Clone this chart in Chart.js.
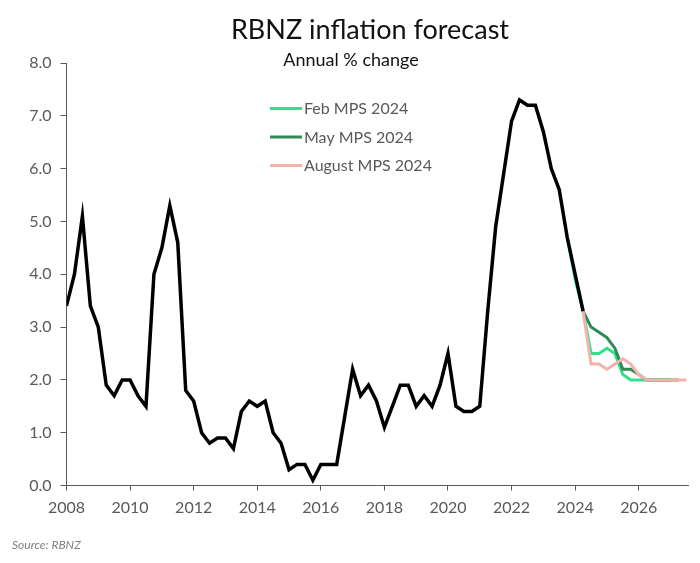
<!DOCTYPE html>
<html>
<head>
<meta charset="utf-8">
<title>RBNZ inflation forecast</title>
<script src="https://cdn.jsdelivr.net/npm/chart.js@4.4.1/dist/chart.umd.min.js"></script>
<style>
  html, body { margin: 0; padding: 0; background: #fff; }
</style>
</head>
<body>
<canvas id="chart" width="700" height="563"></canvas>
<script>
const FONT = "'Century Gothic', Lato, sans-serif"
const AXIS = "#595959"

// quarterly annual CPI %, first value is Q1 of histStart
const histStart = 2008
const histValues = [
  3.4, 4.0, 5.1, 3.4,
  3.0, 1.9, 1.7, 2.0,
  2.0, 1.7, 1.5, 4.0,
  4.5, 5.3, 4.6, 1.8,
  1.6, 1.0, 0.8, 0.9,
  0.9, 0.7, 1.4, 1.6,
  1.5, 1.6, 1.0, 0.8,
  0.3, 0.4, 0.4, 0.1,
  0.4, 0.4, 0.4, 1.3,
  2.2, 1.7, 1.9, 1.6,
  1.1, 1.5, 1.9, 1.9,
  1.5, 1.7, 1.5, 1.9,
  2.5, 1.5, 1.4, 1.4,
  1.5, 3.3, 4.9, 5.9,
  6.9, 7.3, 7.2, 7.2,
  6.7, 6.0, 5.6, 4.7,
  4.0, 3.3
]

// forecasts, start = quarter of first value (2023.75 = Q4 2023)
const febStart = 2023.75
const febValues = [4.7, 3.9, 3.3, 2.5, 2.5, 2.6, 2.5, 2.1, 2.0, 2.0, 2.0, 2.0, 2.0, 2.0]
const mayStart = 2024.25
const mayValues = [3.3, 3.0, 2.9, 2.8, 2.6, 2.2, 2.2, 2.1, 2.0, 2.0, 2.0, 2.0, 2.0]
const augStart = 2024.25
const augValues = [3.3, 2.3, 2.3, 2.2, 2.3, 2.4, 2.3, 2.1, 2.0, 2.0, 2.0, 2.0, 2.0, 2.0]

const seriesLabels = ["Feb MPS 2024", "May MPS 2024", "August MPS 2024"]
const seriesColors = ["#30e08a", "#2e8b57", "#f2b3ab"]

const xTickYears = [2008, 2010, 2012, 2014, 2016, 2018, 2020, 2022, 2024, 2026]
const yTickValues = [0, 1, 2, 3, 4, 5, 6, 7, 8]

function toPoints(start, values) {
  return values.map((v, i) => ({ x: start + i * 0.25, y: v }))
}

// title, subtitle, legend and source note sit inside / around the plot
const decorations = {
  id: "decorations",
  afterDraw(chart) {
    const ctx = chart.ctx
    ctx.save()
    ctx.fillStyle = "#111"
    ctx.textAlign = "center"
    ctx.textBaseline = "alphabetic"
    ctx.font = `27px ${FONT}`
    ctx.fillText("RBNZ inflation forecast", 370, 39)
    ctx.font = `18px ${FONT}`
    ctx.fillText("Annual % change", 351, 66)

    ctx.textAlign = "left"
    ctx.font = `16px ${FONT}`
    seriesLabels.forEach((label, i) => {
      const y = 108.5 + i * 28.5
      ctx.strokeStyle = seriesColors[i]
      ctx.lineWidth = 3
      ctx.beginPath()
      ctx.moveTo(270, y)
      ctx.lineTo(302, y)
      ctx.stroke()
      ctx.fillStyle = AXIS
      ctx.fillText(label, 304, y + 5.5)
    })

    ctx.font = `italic 12px ${FONT}`
    ctx.fillStyle = "#7f7f7f"
    ctx.fillText("Source: RBNZ", 12, 549)
    ctx.restore()
  }
}

const tickFont = { family: FONT, size: 16 }

new Chart(document.getElementById("chart").getContext("2d"), {
  type: "line",
  data: {
    datasets: [
      { label: "Actual", data: toPoints(histStart, histValues), borderColor: "#000", borderWidth: 3.5 },
      { label: seriesLabels[2], data: toPoints(augStart, augValues), borderColor: seriesColors[2], borderWidth: 3 },
      { label: seriesLabels[1], data: toPoints(mayStart, mayValues), borderColor: seriesColors[1], borderWidth: 3 },
      { label: seriesLabels[0], data: toPoints(febStart, febValues), borderColor: seriesColors[0], borderWidth: 3 }
    ]
  },
  options: {
    responsive: false,
    animation: false,
    elements: { point: { radius: 0 }, line: { tension: 0, fill: false } },
    layout: { padding: { top: 63, right: 12, bottom: 0, left: 0 } },
    plugins: {
      legend: { display: false },
      tooltip: { enabled: false }
    },
    scales: {
      x: {
        type: "linear",
        min: 2008,
        max: 2027.55,
        afterBuildTicks: (scale) => { scale.ticks = xTickYears.map((v) => ({ value: v })) },
        afterFit: (scale) => { scale.height = 77.5 },
        border: { color: AXIS },
        grid: { drawOnChartArea: false, tickLength: 5, color: AXIS },
        ticks: {
          color: AXIS,
          font: tickFont,
          padding: 8,
          autoSkip: false,
          maxRotation: 0,
          callback: (v) => String(v)
        }
      },
      y: {
        min: 0,
        max: 8,
        afterBuildTicks: (scale) => { scale.ticks = yTickValues.map((v) => ({ value: v })) },
        afterFit: (scale) => { scale.width = 66.5 },
        border: { color: AXIS },
        grid: { drawOnChartArea: false, tickLength: 6, color: AXIS },
        ticks: {
          color: AXIS,
          font: tickFont,
          padding: 9,
          callback: (v) => v.toFixed(1)
        }
      }
    }
  },
  plugins: [decorations]
})
</script>
</body>
</html>
